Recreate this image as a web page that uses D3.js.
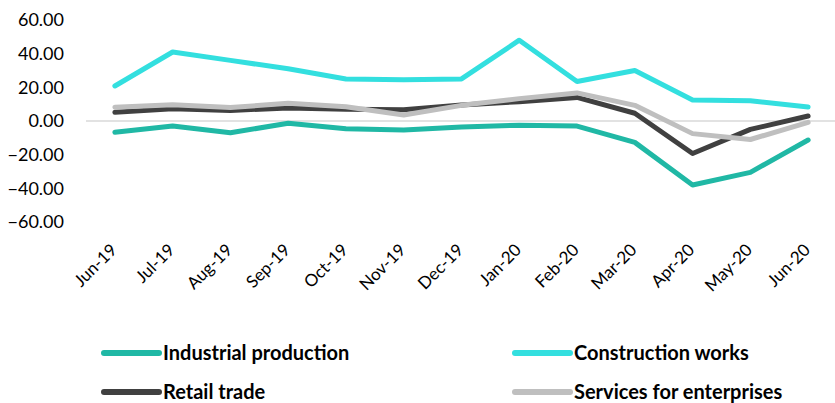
<!DOCTYPE html>
<html>
<head>
<meta charset="utf-8">
<script src="https://cdn.jsdelivr.net/npm/d3@7"></script>
<style>
  body { margin: 0; background: #fff; }
  text { font-family: Lato, "Open Sans", sans-serif; fill: #000; }
</style>
</head>
<body>
<script>
let months = ["Jun-19", "Jul-19", "Aug-19", "Sep-19", "Oct-19", "Nov-19", "Dec-19",
              "Jan-20", "Feb-20", "Mar-20", "Apr-20", "May-20", "Jun-20"];
let industrial   = [-6.7, -3.0, -7.0, -1.3, -4.6, -5.4, -3.5, -2.5, -3.0, -12.7, -38.0, -30.5, -11.3];
let construction = [20.8, 41.0, 36.0, 31.0, 25.0, 24.5, 25.0, 48.0, 23.5, 30.0, 12.5, 12.0, 8.3];
let retail       = [5.2, 7.3, 6.3, 7.7, 7.0, 6.7, 9.5, 11.5, 14.0, 4.6, -19.3, -5.0, 3.0];
let services     = [8.2, 9.7, 8.0, 10.5, 8.5, 3.6, 9.3, 13.3, 16.7, 9.3, -7.5, -11.0, -0.8];
let yTicks = [60, 40, 20, 0, -20, -40, -60];

let width = 835, height = 403;

let series = [
    {name: "Industrial production", values: industrial, color: "#20b8a5"},
    {name: "Construction works", values: construction, color: "#33dfdf"},
    {name: "Retail trade", values: retail, color: "#404040"},
    {name: "Services for enterprises", values: services, color: "#bfbfbf"}
];

let svg = d3.select("body").append("svg")
    .attr("width", width)
    .attr("height", height);

let x = d3.scaleBand()
    .domain(months)
    .range([86, 837]);

let y = d3.scaleLinear()
    .domain([-60, 60])
    .range([222, 20]);

// y axis labels
svg.append("g")
    .selectAll("text")
    .data(yTicks)
    .enter().append("text")
    .attr("x", 64)
    .attr("y", d => y(d))
    .attr("dy", "0.35em")
    .style("text-anchor", "end")
    .style("font-size", "18px")
    .text(d => d3.format(".2f")(d));

// zero line
svg.append("line")
    .attr("x1", 86).attr("x2", 835)
    .attr("y1", y(0)).attr("y2", y(0))
    .style("stroke", "#d9d9d9")
    .style("stroke-width", 1.5);

// x labels, rotated
svg.append("g")
    .selectAll("text")
    .data(months)
    .enter().append("text")
    .attr("transform", d => "translate(" + (x(d) + x.bandwidth() / 2 + 3) + ",251) rotate(-45)")
    .style("text-anchor", "end")
    .style("font-size", "17px")
    .text(d => d);

let line = d3.line()
    .x((d, i) => x(months[i]) + x.bandwidth() / 2)
    .y(d => y(d));

// draw order: construction, industrial, retail, services on top
let order = [1, 0, 2, 3];
svg.append("g")
    .selectAll("path")
    .data(order.map(i => series[i]))
    .enter().append("path")
    .attr("d", d => line(d.values))
    .style("fill", "none")
    .style("stroke", d => d.color)
    .style("stroke-width", 5)
    .style("stroke-linejoin", "round")
    .style("stroke-linecap", "round");

// legend
let legendPos = [[104, 353], [515, 353], [104, 392], [515, 392]];
let legend = svg.append("g")
    .selectAll("g")
    .data(series)
    .enter().append("g")
    .attr("transform", (d, i) => "translate(" + legendPos[i][0] + "," + legendPos[i][1] + ")");

legend.append("line")
    .attr("x1", 0).attr("x2", 55)
    .attr("y1", 0).attr("y2", 0)
    .style("stroke", d => d.color)
    .style("stroke-width", 6)
    .style("stroke-linecap", "round");

legend.append("text")
    .attr("x", 59)
    .attr("dy", "0.35em")
    .style("font-size", "20px")
    .style("font-weight", "bold")
    .text(d => d.name);
</script>
</body>
</html>
